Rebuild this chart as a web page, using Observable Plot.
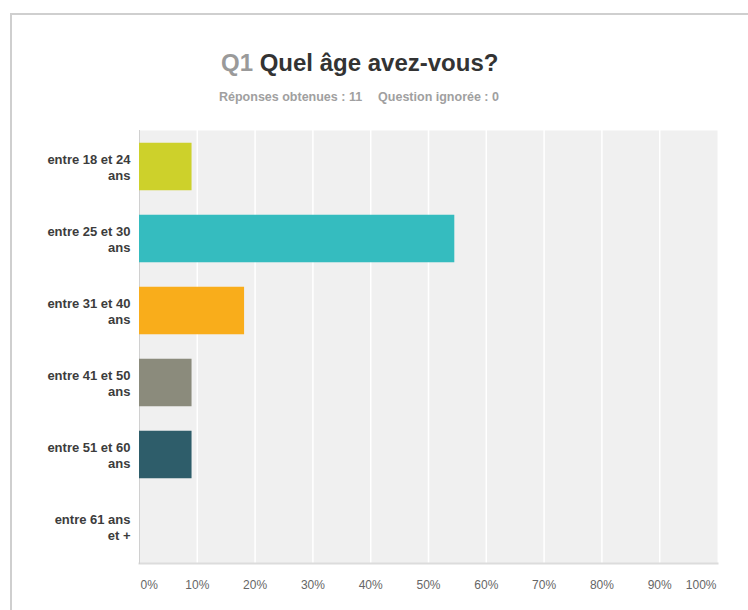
<!DOCTYPE html>
<html>
<head>
<meta charset="utf-8">
<script src="https://cdn.jsdelivr.net/npm/d3@7"></script>
<script src="https://cdn.jsdelivr.net/npm/@observablehq/plot@0.6"></script>
<style>
  html, body { margin: 0; padding: 0; background: #fff; }
  #wrap { position: relative; width: 748px; height: 610px; overflow: hidden; font-family: "Liberation Sans", Arial, sans-serif; }
  #frame { position: absolute; left: 10px; top: 13px; width: 760px; height: 700px; border-top: 2px solid #cfcfcf; border-left: 2px solid #cfcfcf; }
  #title { position: absolute; left: 221px; top: 49px; font-size: 24px; font-weight: bold; color: #333; white-space: nowrap; line-height: 28px; }
  #title .q { color: #9a9a9a; }
  #subtitle { position: absolute; left: 219px; top: 90px; font-size: 12.5px; font-weight: bold; color: #a0a0a0; white-space: nowrap; line-height: 14px; }
  #subtitle span + span { margin-left: 16px; }
  #chart { position: absolute; left: 0; top: 0; }
</style>
</head>
<body>
<div id="wrap">
  <div id="frame"></div>
  <div id="title"><span class="q">Q1</span> Quel âge avez-vous?</div>
  <div id="subtitle"><span>Réponses obtenues : 11</span><span>Question ignorée : 0</span></div>
  <div id="chart"></div>
</div>
<script>
const categories = ["entre 18 et 24\nans", "entre 25 et 30\nans", "entre 31 et 40\nans", "entre 41 et 50\nans", "entre 51 et 60\nans", "entre 61 ans\net +"];
const values = [0.0909, 0.5455, 0.1818, 0.0909, 0.0909, 0];
const colors = ["#cdd12b", "#35bcbf", "#f9ad1b", "#8b8b7c", "#2e5d6a", "#999999"];
const midTicks = [0.1, 0.2, 0.3, 0.4, 0.5, 0.6, 0.7, 0.8, 0.9];
const firstTick = [0];
const lastTick = [1];

const data = categories.map((c, i) => ({cat: c, value: values[i]}));
const pct = d3.format(".0%");
const tickStyle = {frameAnchor: "bottom", lineAnchor: "middle", dy: 22, fontSize: 12, fill: "#666"};

const chart = Plot.plot({
  width: 748,
  height: 610,
  marginTop: 130,
  marginBottom: 47,
  marginLeft: 139,
  marginRight: 31,
  style: {fontFamily: "'Liberation Sans', Arial, sans-serif", background: "transparent", overflow: "visible"},
  x: {domain: [0, 1], axis: null, label: null},
  y: {domain: categories, paddingInner: 0.34, paddingOuter: 0.177, round: false, axis: null, label: null},
  color: {domain: categories, range: colors},
  marks: [
    Plot.frame({fill: "#f0f0f0"}),
    Plot.gridX(midTicks, {stroke: "#ffffff", strokeOpacity: 1, strokeWidth: 1.5}),
    Plot.frame({anchor: "bottom", stroke: "#dcdcdc", strokeWidth: 2}),
    Plot.frame({anchor: "left", stroke: "#d0d0d0", strokeWidth: 1}),
    Plot.barX(data, {x: "value", y: "cat", fill: "cat"}),
    Plot.text(categories, {
      x: 0, y: d => d, text: d => d, textAnchor: "end", dx: -9,
      fontSize: 13, fontWeight: "bold", fill: "#3c3c3c", lineHeight: 1.24
    }),
    Plot.text(midTicks, {x: d => d, text: d => pct(d), textAnchor: "middle", ...tickStyle}),
    Plot.text(firstTick, {x: d => d, text: d => pct(d), textAnchor: "start", dx: 1, ...tickStyle}),
    Plot.text(lastTick, {x: d => d, text: d => pct(d), textAnchor: "end", dx: -1, ...tickStyle})
  ]
});
document.getElementById("chart").appendChild(chart);
</script>
</body>
</html>
